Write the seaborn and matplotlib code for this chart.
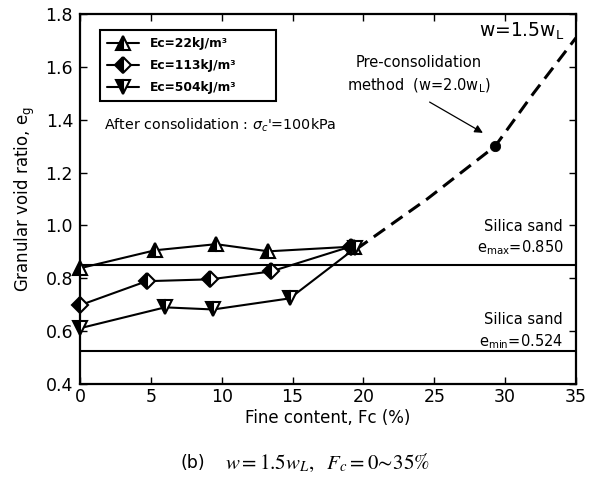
import matplotlib
matplotlib.use("Agg")
import matplotlib.pyplot as plt
import seaborn as sns
import pandas as pd

# ---- data ----
fc_22 = [0.0, 5.3, 9.6, 13.3, 19.3]
e_22 = [0.838, 0.906, 0.929, 0.902, 0.920]
fc_113 = [0.0, 4.7, 9.2, 13.5, 19.1]
e_113 = [0.698, 0.789, 0.796, 0.826, 0.920]
fc_504 = [0.0, 6.0, 9.4, 14.8, 19.4]
e_504 = [0.611, 0.690, 0.682, 0.724, 0.913]
fc_dash = [19.5, 24.5, 29.3, 32.0, 35.0]
e_dash = [0.910, 1.100, 1.300, 1.500, 1.710]
fc_pre = [29.3]
e_pre = [1.300]
e_max = 0.850
e_min = 0.524
labels = ["Ec=22kJ/m³", "Ec=113kJ/m³", "Ec=504kJ/m³"]
markers = ["^", "D", "v"]
xticks = [0, 5, 10, 15, 20, 25, 30, 35]
yticks = [0.4, 0.6, 0.8, 1.0, 1.2, 1.4, 1.6, 1.8]

sns.set_style("ticks")
plt.rcParams["font.family"] = ["DejaVu Sans"]
plt.rcParams["text.color"] = "black"
plt.rcParams["axes.labelcolor"] = "black"
plt.rcParams["xtick.color"] = "black"
plt.rcParams["ytick.color"] = "black"

fig = plt.figure(figsize=(6.02, 4.87), dpi=100)
ax = fig.add_axes([0.1329, 0.2115, 0.8239, 0.7598])

series = [(fc_22, e_22), (fc_113, e_113), (fc_504, e_504)]
msizes = [10.5, 8.5, 10.5]
for (fx, ey), lab, mk, ms in zip(series, labels, markers, msizes):
    df = pd.DataFrame({"Fc": fx, "e": ey})
    sns.lineplot(data=df, x="Fc", y="e", ax=ax, sort=False, estimator=None,
                 color="black", linewidth=1.5, marker=mk, markersize=ms,
                 fillstyle="left", markerfacecolor="black",
                 markerfacecoloralt="white", markeredgecolor="black",
                 markeredgewidth=1.5, label=lab, zorder=5, clip_on=False)

df_d = pd.DataFrame({"Fc": fc_dash, "e": e_dash})
sns.lineplot(data=df_d, x="Fc", y="e", ax=ax, sort=False, estimator=None,
             color="black", linewidth=2.2, dashes=False, legend=False, zorder=4)
ax.lines[-1].set_linestyle((0, (4.5, 2.5)))
df_p = pd.DataFrame({"Fc": fc_pre, "e": e_pre})
sns.scatterplot(data=df_p, x="Fc", y="e", ax=ax, color="black", s=55,
                edgecolor="black", legend=False, zorder=6)

ax.axhline(e_max, color="black", linewidth=1.5, zorder=3)
ax.axhline(e_min, color="black", linewidth=1.5, zorder=3)

ax.set_xlim(0, 35)
ax.set_ylim(0.4, 1.8)
ax.set_xticks(xticks)
ax.set_yticks(yticks)
ax.set_xticklabels([str(v) for v in xticks])
ax.set_yticklabels([f"{v:.1f}" for v in yticks])
ax.tick_params(direction="in", length=5, width=1, labelsize=12.5,
               top=True, right=True, color="black", labelcolor="black")
ax.tick_params(axis="x", pad=3)
ax.tick_params(axis="y", pad=5)
for s in ax.spines.values():
    s.set_linewidth(1.6)
    s.set_color("black")
    s.set_visible(True)

ax.set_xlabel("Fine content, Fc (%)", fontsize=12, labelpad=2)
ax.set_ylabel(r"Granular void ratio, e$_\mathregular{g}$", fontsize=12, labelpad=6)

leg_h = 77 / 370
leg = ax.legend(loc="upper left", bbox_to_anchor=(0.04, 0.957 - leg_h, 0.355, leg_h),
                mode="expand", frameon=True,
                fancybox=False, prop={"weight": "bold", "size": 8.8},
                handlelength=2.6, borderpad=0.6, labelspacing=0.72,
                handletextpad=0.9, borderaxespad=0)
leg.get_frame().set_edgecolor("black")
leg.get_frame().set_linewidth(1.5)
leg.get_frame().set_facecolor("white")
leg.get_frame().set_alpha(1)

ax.text(1.7, 1.38, r"After consolidation : $\sigma_c$'=100kPa", fontsize=10.3,
        va="center", ha="left")
ax.text(34.2, 1.736, r"w=1.5w$_\mathregular{L}$", fontsize=13.5, ha="right",
        va="center")
ax.text(23.9, 1.568, "Pre-consolidation\nmethod  (w=2.0w$_\\mathregular{L}$)",
        fontsize=10.5, ha="center", va="center", linespacing=1.5)
ax.annotate("", xy=(28.6, 1.345), xytext=(24.5, 1.472),
            arrowprops=dict(arrowstyle="-|>", color="black", lw=0.9,
                            mutation_scale=12))
ax.text(34.1, 0.952, "Silica sand\ne$_\\mathregular{max}$=0.850", fontsize=10.5,
        ha="right", va="center", linespacing=1.35)
ax.text(34.1, 0.599, "Silica sand\ne$_\\mathregular{min}$=0.524", fontsize=10.5,
        ha="right", va="center", linespacing=1.35)

fig.text(0.300, 0.049, "(b)", fontsize=12.5, ha="left", va="center")
fig.text(0.374, 0.049, r"$w=1.5w_L,\ \ F_c=0\!\sim\!35\%$", fontsize=15,
         ha="left", va="center", math_fontfamily="stix")

fig.savefig("out.png", dpi=100)
